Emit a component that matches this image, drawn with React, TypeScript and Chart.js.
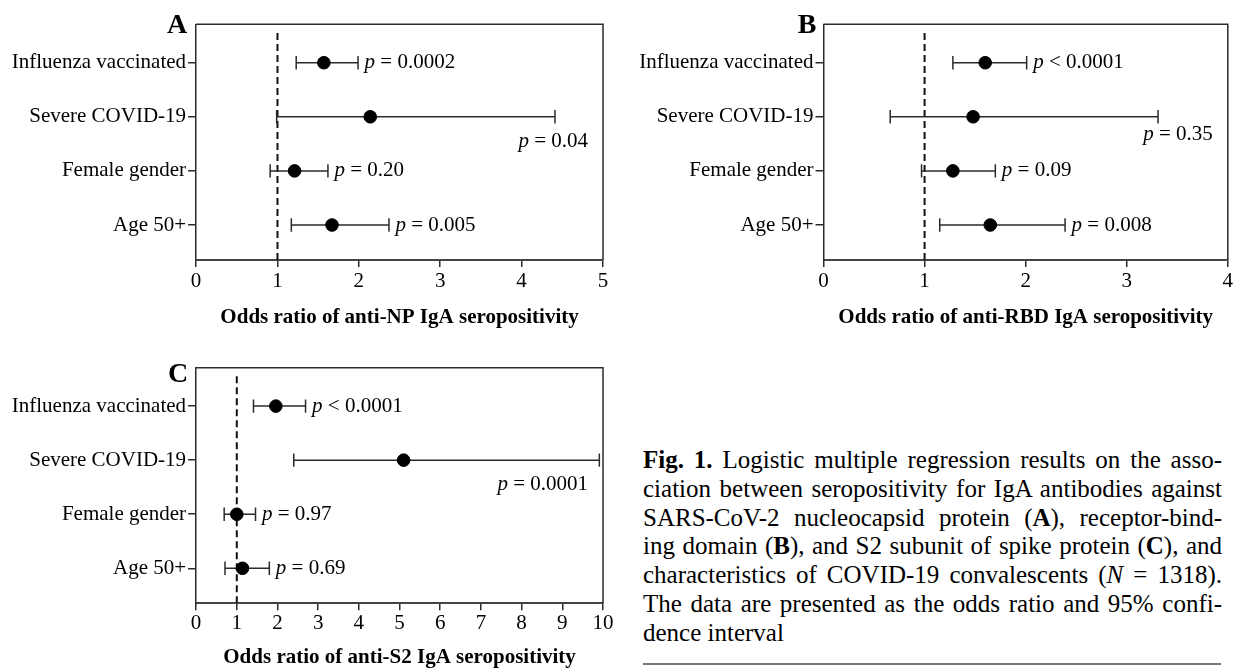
import React, { useEffect, useRef } from "react";
import { Chart, registerables } from "chart.js";

Chart.register(...registerables);

// ---------- DATA ----------
const categories = ["Influenza vaccinated", "Severe COVID-19", "Female gender", "Age 50+"];

const npOdds = [1.57, 2.14, 1.21, 1.67];
const npLow = [1.23, 0.99, 0.91, 1.17];
const npHigh = [1.99, 4.41, 1.62, 2.37];
const npP = ["= 0.0002", "= 0.04", "= 0.20", "= 0.005"];
const npTitle = "Odds ratio of anti-NP IgA seropositivity";
const npXMax = 5;

const rbdOdds = [1.6, 1.48, 1.28, 1.65];
const rbdLow = [1.28, 0.66, 0.97, 1.15];
const rbdHigh = [2.01, 3.31, 1.7, 2.39];
const rbdP = ["< 0.0001", "= 0.35", "= 0.09", "= 0.008"];
const rbdTitle = "Odds ratio of anti-RBD IgA seropositivity";
const rbdXMax = 4;

const s2Odds = [1.96, 5.1, 1.0, 1.14];
const s2Low = [1.41, 2.4, 0.69, 0.71];
const s2High = [2.69, 9.91, 1.46, 1.8];
const s2P = ["< 0.0001", "= 0.0001", "= 0.97", "= 0.69"];
const s2Title = "Odds ratio of anti-S2 IgA seropositivity";
const s2XMax = 10;

const referenceOdds = 1;

// ---------- STYLE / LAYOUT ----------
const SERIF = '"Liberation Serif", "Times New Roman", serif';
const INK = "#2b2b2b";
const Y_MIN = -0.71;
const Y_MAX = 3.647;
const REF_TOP = -0.55;

type Panel = {
  letter: string;
  odds: number[];
  low: number[];
  high: number[];
  pText: string[];
  title: string;
  xMax: number;
  left: number;
  top: number;
  w: number;
  h: number;
  padTop: number;
  padRight: number;
  yWidth: number;
  xHeight: number;
  tickPad: number;
  titlePad: number;
  belowRow: number;
  belowDy: number;
  letterDx: number;
  letterDy: number;
};

const panels: Panel[] = [
  {
    letter: "A", odds: npOdds, low: npLow, high: npHigh, pText: npP, title: npTitle, xMax: npXMax,
    left: 0, top: 0, w: 620, h: 335, padTop: 24.3, padRight: 17, yWidth: 196.1, xHeight: 75,
    tickPad: 2, titlePad: 7, belowRow: 1, belowDy: 25, letterDx: 9, letterDy: 9,
  },
  {
    letter: "B", odds: rbdOdds, low: rbdLow, high: rbdHigh, pText: rbdP, title: rbdTitle, xMax: rbdXMax,
    left: 620, top: 0, w: 616, h: 335, padTop: 24.3, padRight: 5.8, yWidth: 203.5, xHeight: 75,
    tickPad: 2, titlePad: 7, belowRow: 1, belowDy: 18, letterDx: 7, letterDy: 9,
  },
  {
    letter: "C", odds: s2Odds, low: s2Low, high: s2High, pText: s2P, title: s2Title, xMax: s2XMax,
    left: 0, top: 335, w: 620, h: 333, padTop: 32.7, padRight: 17, yWidth: 196.1, xHeight: 64.7,
    tickPad: 0.5, titlePad: 0, belowRow: 1, belowDy: 24, letterDx: 8, letterDy: 14,
  },
];

function makeOverlay(p: Panel) {
  return {
    id: "overlay" + p.letter,
    afterDatasetsDraw(chart: any) {
      const { ctx, chartArea, scales } = chart;
      const x = scales.x;
      const y = scales.y;
      ctx.save();
      // frame (top + right)
      ctx.strokeStyle = INK;
      ctx.lineWidth = 1.5;
      ctx.beginPath();
      ctx.moveTo(chartArea.left, chartArea.top);
      ctx.lineTo(chartArea.right, chartArea.top);
      ctx.lineTo(chartArea.right, chartArea.bottom);
      ctx.stroke();

      // p-values
      ctx.fillStyle = "#000";
      ctx.textBaseline = "middle";
      ctx.textAlign = "left";
      const italic = `italic 21px ${SERIF}`;
      const normal = `21px ${SERIF}`;
      p.pText.forEach((t, i) => {
        const yPix = y.getPixelForValue(i);
        ctx.font = italic;
        const pw = ctx.measureText("p").width;
        ctx.font = normal;
        const rest = " " + t;
        const rw = ctx.measureText(rest).width;
        let xs: number;
        let ys: number;
        if (i === p.belowRow) {
          xs = chartArea.right - 15 - pw - rw;
          ys = yPix + p.belowDy;
        } else {
          xs = x.getPixelForValue(p.high[i]) + 6.5;
          ys = yPix;
        }
        ctx.font = italic;
        ctx.fillText("p", xs, ys);
        ctx.font = normal;
        ctx.fillText(rest, xs + pw, ys);
      });

      // panel letter
      ctx.font = `bold 28px ${SERIF}`;
      ctx.textAlign = "right";
      ctx.textBaseline = "alphabetic";
      ctx.fillText(p.letter, chartArea.left - p.letterDx, chartArea.top + p.letterDy);
      ctx.restore();
    },
  };
}

function ForestPanel({ p }: { p: Panel }) {
  const ref = useRef<HTMLCanvasElement | null>(null);
  useEffect(() => {
    if (!ref.current) return;
    const ciSets = categories.map((_, i) => ({
      type: "line" as const,
      data: [
        { x: p.low[i], y: i },
        { x: p.high[i], y: i },
      ],
      showLine: true,
      borderColor: INK,
      borderWidth: 1.5,
      pointStyle: "line" as const,
      pointRotation: 90,
      pointRadius: 6.7,
      pointBorderWidth: 1.5,
      pointBorderColor: INK,
      order: 1,
    }));
    const chart = new Chart(ref.current, {
      type: "scatter",
      data: {
        datasets: [
          {
            data: categories.map((_, i) => ({ x: p.odds[i], y: i })),
            pointRadius: 6.3,
            pointBackgroundColor: "#000",
            pointBorderColor: "#000",
            pointBorderWidth: 1,
            order: 0,
          } as any,
          ...ciSets,
          {
            type: "line",
            data: [
              { x: referenceOdds, y: REF_TOP },
              { x: referenceOdds, y: Y_MAX },
            ],
            showLine: true,
            borderColor: "#111",
            borderWidth: 2,
            borderDash: [7, 4],
            pointRadius: 0,
            order: 2,
          } as any,
        ],
      },
      options: {
        animation: false,
        responsive: false,
        maintainAspectRatio: false,
        events: [],
        layout: { padding: { left: 0, top: p.padTop, right: p.padRight, bottom: 0 } },
        plugins: { legend: { display: false }, tooltip: { enabled: false } },
        scales: {
          x: {
            type: "linear",
            position: "bottom",
            min: 0,
            max: p.xMax,
            afterFit: (s: any) => {
              s.height = p.xHeight;
            },
            ticks: {
              stepSize: 1,
              autoSkip: false,
              color: "#000",
              padding: p.tickPad,
              font: { family: SERIF, size: 21 },
            },
            grid: {
              display: true,
              drawOnChartArea: false,
              drawTicks: true,
              tickLength: 7,
              color: INK,
              lineWidth: 1.5,
            },
            border: { display: true, color: "#444", width: 2 },
            title: {
              display: true,
              text: p.title,
              color: "#000",
              font: { family: SERIF, size: 21, weight: "bold", lineHeight: 1 },
              padding: { top: 0, bottom: p.titlePad },
            },
          },
          y: {
            type: "linear",
            position: "left",
            reverse: true,
            min: Y_MIN,
            max: Y_MAX,
            afterFit: (s: any) => {
              s.width = p.yWidth;
            },
            afterBuildTicks: (axis: any) => {
              axis.ticks = categories.map((_, i) => ({ value: i }));
            },
            ticks: {
              autoSkip: false,
              color: "#000",
              padding: 2,
              font: { family: SERIF, size: 21 },
              callback: (v: any) => categories[Number(v)] ?? "",
            },
            grid: {
              display: true,
              drawOnChartArea: false,
              drawTicks: true,
              tickLength: 8,
              color: INK,
              lineWidth: 1.5,
            },
            border: { display: true, color: INK, width: 1.5 },
          },
        },
      } as any,
      plugins: [makeOverlay(p)],
    });
    return () => chart.destroy();
  }, []);
  return (
    <canvas
      ref={ref}
      width={p.w}
      height={p.h}
      style={{ position: "absolute", left: p.left, top: p.top, width: p.w, height: p.h }}
    />
  );
}

const lineStyle: React.CSSProperties = { textAlign: "justify", textAlignLast: "justify" as any };

export default function App() {
  return (
    <div
      style={{
        position: "fixed",
        left: 0,
        top: 0,
        width: 1236,
        height: 668,
        background: "#fff",
        overflow: "hidden",
      }}
    >
      {panels.map((p) => (
        <ForestPanel key={p.letter} p={p} />
      ))}
      <div
        style={{
          position: "absolute",
          left: 643,
          top: 446,
          width: 579,
          fontFamily: SERIF,
          fontSize: 25,
          lineHeight: "28.8px",
          color: "#000",
        }}
      >
        <div style={lineStyle}>
          <b>Fig. 1.</b> Logistic multiple regression results on the asso-
        </div>
        <div style={lineStyle}>ciation between seropositivity for IgA antibodies against</div>
        <div style={lineStyle}>
          SARS-CoV-2 nucleocapsid protein (<b>A</b>), receptor-bind-
        </div>
        <div style={lineStyle}>
          ing domain (<b>B</b>), and S2 subunit of spike protein (<b>C</b>), and
        </div>
        <div style={lineStyle}>
          characteristics of COVID-19 convalescents (<i>N</i> = 1318).
        </div>
        <div style={lineStyle}>The data are presented as the odds ratio and 95% confi-</div>
        <div style={{ textAlign: "left" }}>dence interval</div>
      </div>
      <div
        style={{
          position: "absolute",
          left: 643,
          top: 663,
          width: 578,
          height: 2,
          background: "#777",
        }}
      />
    </div>
  );
}
